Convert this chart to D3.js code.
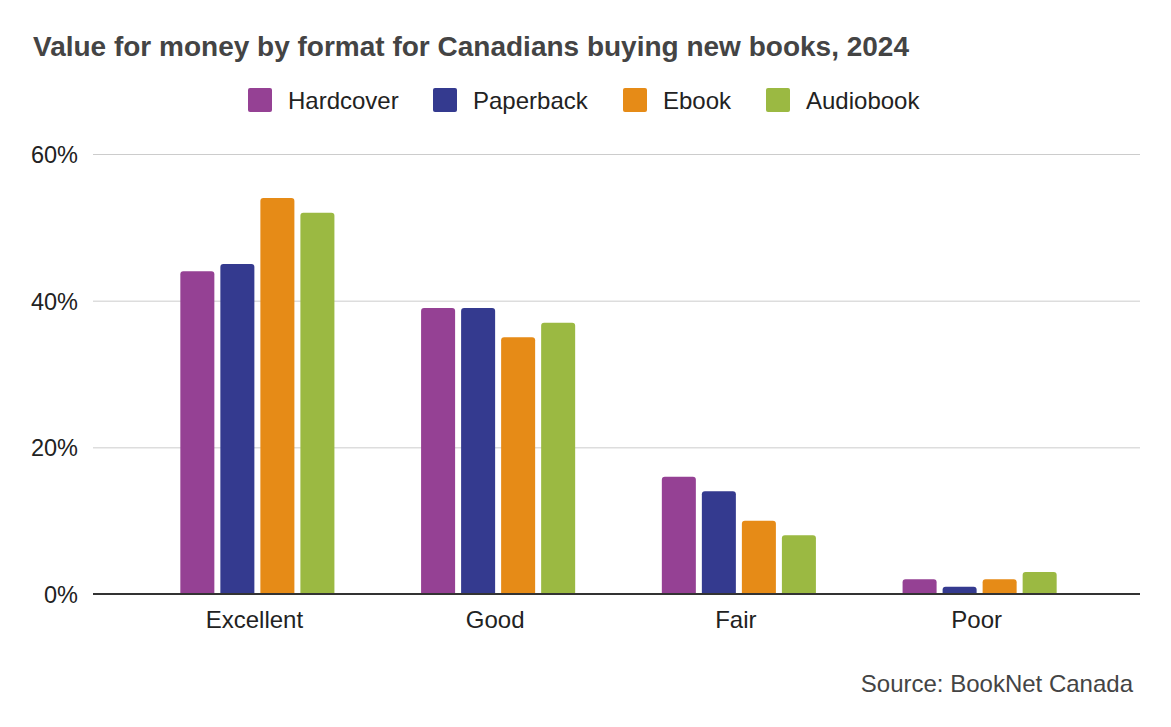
<!DOCTYPE html>
<html lang="en">
<head>
<meta charset="UTF-8">
<title>Value for money by format</title>
<script src="https://d3js.org/d3.v7.min.js"></script>
<style>
  body { margin: 0; background: white; }
  text { font-family: Arial, "Liberation Sans", sans-serif; }
</style>
</head>
<body>
<svg id="main" width="1171" height="727"></svg>
<script>
    // chart data
    let categories = ["Excellent", "Good", "Fair", "Poor"];
    let formats = ["Hardcover", "Paperback", "Ebook", "Audiobook"];
    let hardcover = [44, 39, 16, 2];
    let paperback = [45, 39, 14, 1];
    let ebook = [54, 35, 10, 2];
    let audiobook = [52, 37, 8, 3];
    let yTicks = [0, 20, 40, 60];
    let colors = ["#954194", "#343a8f", "#e68b17", "#9bb942"];

    let seriesVals = [hardcover, paperback, ebook, audiobook];
    let fontFam = 'Arial, "Liberation Sans", sans-serif';

    let svg = d3.select('svg#main');

    let plot = {left: 93, right: 1140, top: 154, bottom: 594};

    let x = d3.scaleBand().domain(categories).range([137, 1100]).paddingInner(0.36).paddingOuter(0.18);
    let xInner = d3.scaleBand().domain(formats).range([0, x.bandwidth()]).paddingInner(0.15);
    let y = d3.scaleLinear().domain([0, 60]).range([plot.bottom, plot.top]);

    // title
    svg.append('text')
        .attr('x', 33).attr('y', 56)
        .style('font-size', '28px').style('font-weight', 'bold').style('fill', '#444')
        .text('Value for money by format for Canadians buying new books, 2024');

    // legend
    let legendX = [248, 433, 623, 766];
    let legend = svg.append('g');
    formats.forEach(function (f, i) {
        legend.append('rect')
            .attr('x', legendX[i]).attr('y', 88).attr('width', 24).attr('height', 24)
            .attr('rx', 2).style('fill', colors[i]);
        legend.append('text')
            .attr('x', legendX[i] + 40).attr('y', 108.5)
            .style('font-size', '24px').style('fill', '#222')
            .text(f);
    });

    // gridlines + y axis
    let yAxis = svg.append('g')
        .attr('transform', 'translate(' + plot.left + ',0)')
        .call(d3.axisLeft(y).tickValues(yTicks).tickSize(-(plot.right - plot.left)).tickFormat(function (d) { return d + '%'; }));
    yAxis.select('.domain').remove();
    yAxis.selectAll('.tick line').style('stroke', '#cccccc');
    yAxis.selectAll('.tick text').attr('x', -15).attr('dy', '0.36em')
        .style('font-size', '23.5px').style('fill', '#222').style('font-family', fontFam);

    // bars
    let groups = svg.append('g').selectAll('g')
        .data(categories)
        .join('g')
        .attr('transform', function (d) { return 'translate(' + x(d) + ',0)'; });

    groups.selectAll('path')
        .data(function (d, ci) { return formats.map(function (f, si) { return {f: f, si: si, v: seriesVals[si][ci]}; }); })
        .join('path')
        .attr('d', function (d) {
            let x0 = xInner(d.f), w = xInner.bandwidth();
            let top = y(d.v), bot = y(0), r = Math.min(3, (bot - top) / 2);
            return 'M' + x0 + ',' + bot + 'V' + (top + r) + 'Q' + x0 + ',' + top + ' ' + (x0 + r) + ',' + top +
                'H' + (x0 + w - r) + 'Q' + (x0 + w) + ',' + top + ' ' + (x0 + w) + ',' + (top + r) + 'V' + bot + 'Z';
        })
        .style('fill', function (d) { return colors[d.si]; });

    // x axis
    let xAxis = svg.append('g')
        .attr('transform', 'translate(-3,' + plot.bottom + ')')
        .call(d3.axisBottom(x).tickSize(0).tickPadding(17));
    xAxis.select('.domain').remove();
    xAxis.selectAll('.tick text').style('font-size', '24px').style('fill', '#222')
        .style('font-family', fontFam);
    svg.append('line')
        .attr('x1', plot.left).attr('x2', plot.right)
        .attr('y1', plot.bottom).attr('y2', plot.bottom)
        .style('stroke', '#333').style('stroke-width', '2px');

    // source
    svg.append('text')
        .attr('x', 1133).attr('y', 692).attr('text-anchor', 'end')
        .style('font-size', '24px').style('fill', '#444')
        .text('Source: BookNet Canada');
</script>
</body>
</html>
